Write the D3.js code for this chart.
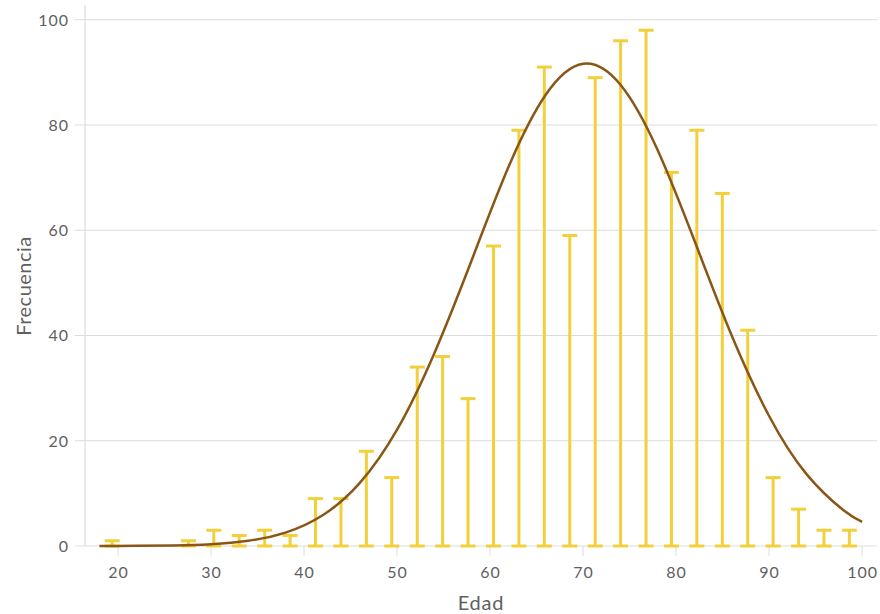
<!DOCTYPE html>
<html>
<head>
<meta charset="utf-8">
<script src="https://cdn.jsdelivr.net/npm/d3@7"></script>
<style>
  html, body { margin: 0; padding: 0; background: #fff; }
  svg text { font-family: Lato, "Open Sans", sans-serif; fill: #5f5f5f; }
</style>
</head>
<body>
<svg id="chart" width="880" height="614"></svg>
<script>
// Age histogram: bin centres (years) and counts per bin
const binCenters = [19.37, 27.57, 30.30, 33.03, 35.77, 38.50, 41.23, 43.97, 46.70, 49.43,
                    52.17, 54.90, 57.63, 60.37, 63.10, 65.83, 68.57, 71.30, 74.03, 76.77,
                    79.50, 82.23, 84.97, 87.70, 90.43, 93.17, 95.90, 98.63];
const counts     = [1, 1, 3, 2, 3, 2, 9, 9, 18, 13,
                    34, 36, 28, 57, 79, 91, 59, 89, 96, 98,
                    71, 79, 67, 41, 13, 7, 3, 3];

// Fitted density curve (scaled to frequency)
const curveAges   = [18, 22, 26, 30, 34, 38, 42, 46, 50, 54, 58, 62, 66, 70, 74, 78, 82, 86, 90, 94, 98, 100];
const curveValues = [0.01, 0.03, 0.11, 0.35, 0.99, 2.54, 5.83, 12.0, 22.1, 36.6, 54.2, 72.1, 85.8, 91.65,
                     87.7, 75.3, 57.9, 39.9, 24.7, 13.7, 6.8, 4.6];

const xTicks = [20, 30, 40, 50, 60, 70, 80, 90, 100];
const yTicks = [0, 20, 40, 60, 80, 100];

const svg = d3.select("#chart");
const x = d3.scaleLinear().domain([16.45, 101.6]).range([85, 877]);
const y = d3.scaleLinear().domain([0, 102.8]).range([546, 5]);

const gridColor = "#dcdcdc";
const barColor = "#f2d03b";
const lineColor = "#8a5616";

// horizontal grid lines (extend left as ticks)
svg.append("g").selectAll("line").data(yTicks).join("line")
  .attr("x1", 75).attr("x2", 877)
  .attr("y1", d => y(d)).attr("y2", d => y(d))
  .attr("stroke", gridColor).attr("stroke-width", 1);

// y axis line
svg.append("line")
  .attr("x1", 85).attr("x2", 85).attr("y1", 5).attr("y2", 546)
  .attr("stroke", gridColor).attr("stroke-width", 1.2);

// x tick marks
svg.append("g").selectAll("line").data(xTicks).join("line")
  .attr("x1", d => x(d)).attr("x2", d => x(d))
  .attr("y1", 546).attr("y2", 556)
  .attr("stroke", gridColor).attr("stroke-width", 1);

// y tick labels
svg.append("g").selectAll("text").data(yTicks).join("text")
  .attr("x", 69).attr("y", d => y(d) + 6)
  .attr("text-anchor", "end")
  .attr("font-size", 16)
  .attr("letter-spacing", 1)
  .text(d => d);

// x tick labels
svg.append("g").selectAll("text").data(xTicks).join("text")
  .attr("x", d => x(d) + 0.5).attr("y", 578)
  .attr("text-anchor", "middle")
  .attr("font-size", 16)
  .attr("letter-spacing", 1)
  .text(d => d);

// axis titles
svg.append("text")
  .attr("x", 481).attr("y", 610)
  .attr("text-anchor", "middle")
  .attr("font-size", 20)
  .attr("letter-spacing", 0.8)
  .text("Edad");

svg.append("text")
  .attr("transform", "translate(31,286) rotate(-90)")
  .attr("text-anchor", "middle")
  .attr("font-size", 20)
  .attr("letter-spacing", 0.5)
  .text("Frecuencia");

// bars drawn as capped stems
const bins = binCenters.map((c, i) => ({ age: c, n: counts[i] }));
const capHalf = 7.5;
const g = svg.append("g")
  .attr("stroke", barColor).attr("stroke-width", 3).attr("fill", "none");

g.selectAll("line.stem").data(bins).join("line")
  .attr("class", "stem")
  .attr("x1", d => x(d.age)).attr("x2", d => x(d.age))
  .attr("y1", y(0)).attr("y2", d => y(d.n));

g.selectAll("line.top").data(bins).join("line")
  .attr("class", "top")
  .attr("x1", d => x(d.age) - capHalf).attr("x2", d => x(d.age) + capHalf)
  .attr("y1", d => y(d.n)).attr("y2", d => y(d.n));

g.selectAll("line.bottom").data(bins).join("line")
  .attr("class", "bottom")
  .attr("x1", d => x(d.age) - capHalf).attr("x2", d => x(d.age) + capHalf)
  .attr("y1", y(0)).attr("y2", y(0));

// fitted curve
const curvePts = curveAges.map((a, i) => [a, curveValues[i]]);
svg.append("path")
  .datum(curvePts)
  .attr("fill", "none")
  .attr("stroke", lineColor)
  .attr("stroke-width", 2.5)
  .attr("d", d3.line().x(d => x(d[0])).y(d => y(d[1])).curve(d3.curveNatural));
</script>
</body>
</html>
